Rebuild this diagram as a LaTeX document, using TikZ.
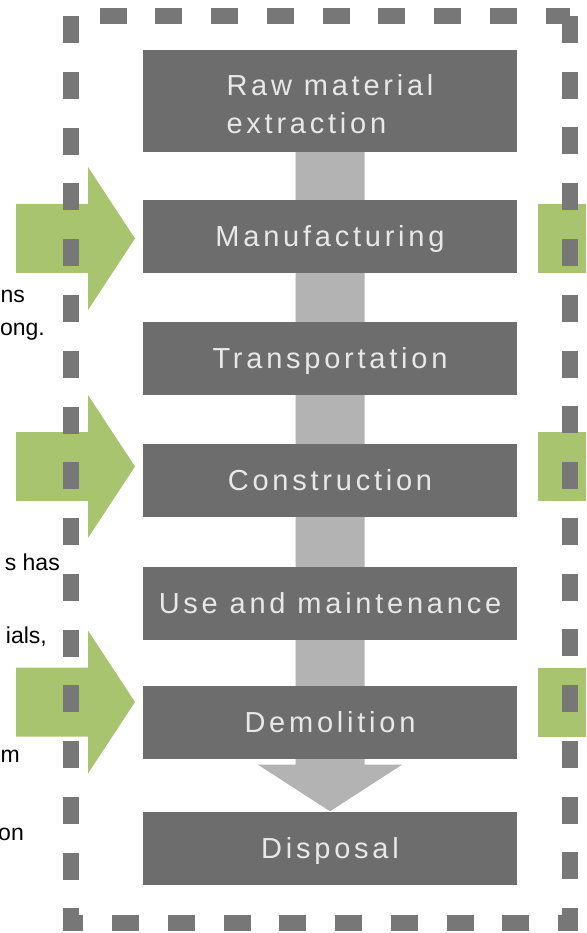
\documentclass[tikz,border=0pt]{standalone}
\usepackage{fontspec}
\usepackage{tikz}
\usetikzlibrary{calc}
\setmainfont{Liberation Sans}
\newfontfamily\stagefont[LetterSpace=13]{Liberation Sans}
\definecolor{stagegray}{HTML}{6D6D6D}
\definecolor{stagetext}{HTML}{E8E8E8}
\definecolor{framegray}{HTML}{777777}
\definecolor{flowgray}{HTML}{B3B3B3}
\definecolor{inputgreen}{HTML}{A9C46F}
\pgfdeclarelayer{background}
\pgfsetlayers{background,main}
\def\stagewidth{374pt}
\def\stageheight{73pt}
\tikzset{stage/.style={fill=stagegray, text=stagetext,
    minimum width=\stagewidth, minimum height=\stageheight,
    inner sep=0pt, text height=21pt, text depth=0pt,
    font=\stagefont\fontsize{29}{38}\selectfont}}
\tikzset{flow/.style={fill=flowgray}}
\tikzset{input/.style={fill=inputgreen}}
\tikzset{frame/.style={draw=framegray, line width=16pt,
    dash pattern=on 27pt off 28.75pt}}
\tikzset{note/.style={anchor=base east, inner sep=0pt,
    font=\fontsize{23}{28}\selectfont}}

\begin{document}
\begin{tikzpicture}[x=1pt, y=-1pt]
\useasboundingbox (0,0) rectangle (586,933);

% stages
\node[stage, minimum height=102pt, align=left, text height=66pt] (0) at (330, 101) {Raw material\\extraction};
\node[stage] (1) at (330, 236.5) {Manufacturing};
\node[stage] (2) at (330, 358) {Transportation};
\node[stage] (3) at (330, 480) {Construction};
\node[stage] (4) at (330, 603) {Use and maintenance};
\node[stage] (5) at (330, 722) {Demolition};
\node[stage] (6) at (330, 848) {Disposal};

\begin{pgfonlayer}{background}
\fill[flow] ([xshift=-34.5pt]0.south) -- ([xshift=-34.5pt, yshift=-6pt]5.south)
    -- ([xshift=-72pt, yshift=-6pt]5.south) -- (6.north)
    -- ([xshift=72pt, yshift=-6pt]5.south) -- ([xshift=34.5pt, yshift=-6pt]5.south)
    -- ([xshift=34.5pt]0.south) -- cycle;
\end{pgfonlayer}

% inputs
\coordinate (in1) at (135, 238.5);
\coordinate (in2) at (135, 466.5);
\coordinate (in3) at (135, 702);

\fill[input] (in1) -- ++(-47,-71.5) -- ++(0,37) -- ++(-72,0) -- ++(0,69) -- ++(72,0) -- ++(0,37) -- cycle;
\fill[input] (in2) -- ++(-47,-71.5) -- ++(0,37) -- ++(-72,0) -- ++(0,69) -- ++(72,0) -- ++(0,37) -- cycle;
\fill[input] (in3) -- ++(-47,-71.5) -- ++(0,37) -- ++(-72,0) -- ++(0,69) -- ++(72,0) -- ++(0,37) -- cycle;

\fill[input] (538, 204) rectangle (586, 273);
\fill[input] (538, 432) rectangle (586, 501);
\fill[input] (538, 668) rectangle (586, 737);

% boundary
\draw[frame] (570, 16) -- (570, 923) -- (71, 923) -- (71, 16) -- cycle;

% cut text
\node[note, anchor=base west] (t1) at (0.5, 302) {ns};
\node[note] (t2) at (45, 335) {ong.};
\node[note] (t3) at (60, 570) {s has};
\node[note] (t4) at (47, 643) {ials,};
\node[note] (t5) at (20, 762) {m};
\node[note] (t6) at (24, 840) {on};

\end{tikzpicture}
\end{document}
